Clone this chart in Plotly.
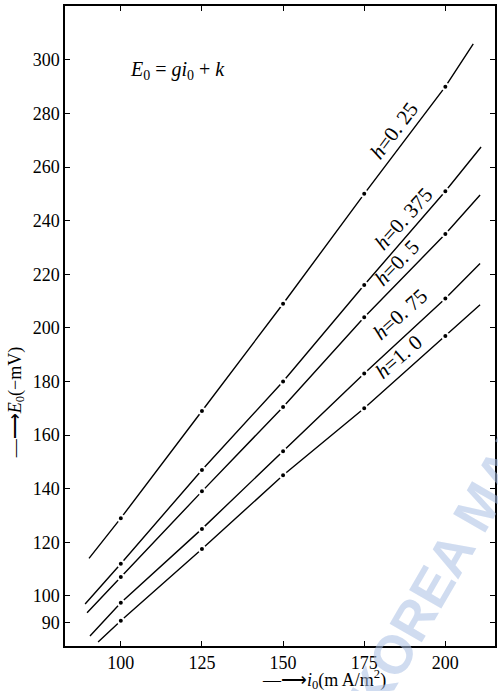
import plotly.graph_objects as go

# ---- data ----
i0 = [100, 125, 150, 175, 200]
h_labels = ["h=0. 25", "h=0. 375", "h=0. 5", "h=0. 75", "h=1. 0"]
E_h025 = [129, 169, 209, 250, 290]
E_h0375 = [112, 147, 180, 216, 251]
E_h05 = [107, 139, 170.5, 204, 235]
E_h075 = [97.4, 125, 154, 183, 211]
E_h10 = [90.7, 117.5, 145, 170, 197]
# line extents (start / end of each drawn line)
line_start_x = [90.2, 89, 89.6, 90.5, 93]
line_start_E = [114, 97, 93.7, 85, 82.8]
line_end_x = [208.6, 211, 210.7, 210.7, 210.7]
line_end_E = [306, 267.5, 249.6, 224, 208.6]
y_ticks = [90, 100, 120, 140, 160, 180, 200, 220, 240, 260, 280, 300]
x_ticks = [100, 125, 150, 175, 200]

series = [E_h025, E_h0375, E_h05, E_h075, E_h10]
label_x = [185.0, 187.9, 185.9, 187.1, 186.5]
label_E = [272.4, 239.6, 223.1, 204.0, 188.0]
label_angle = [-53, -48, -46, -42, -41]

SERIF = "Liberation Serif, Times New Roman, serif"

fig = go.Figure()
for k, E in enumerate(series):
    xs = [line_start_x[k]] + i0 + [line_end_x[k]]
    ys = [line_start_E[k]] + E + [line_end_E[k]]
    fig.add_trace(go.Scatter(x=xs, y=ys, mode="lines",
                             line=dict(color="black", width=1.4),
                             showlegend=False, hoverinfo="skip"))
    fig.add_trace(go.Scatter(x=i0, y=E, mode="markers",
                             marker=dict(color="black", size=6,
                                         line=dict(color="white", width=2)),
                             showlegend=False))

for k, lab in enumerate(h_labels):
    h, rest = lab.split("=")
    fig.add_annotation(x=label_x[k], y=label_E[k], xref="x", yref="y",
                       text="<i>" + h + "</i>=" + rest, showarrow=False,
                       textangle=label_angle[k], xanchor="center",
                       yanchor="middle", xshift=-3, yshift=3,
                       font=dict(family=SERIF, size=21, color="black"))

fig.add_annotation(x=117.5, y=295.9, xref="x", yref="y",
                   text="<i>E</i><sub>0</sub> = <i>gi</i><sub>0</sub> + <i>k</i>",
                   showarrow=False, xanchor="center", yanchor="middle",
                   font=dict(family=SERIF, size=20, color="black"))

# axis titles
fig.add_annotation(x=-0.113, y=0.38, xref="paper", yref="paper",
                   text="—⟶<i>E</i><sub>0</sub>(−mV)", showarrow=False,
                   textangle=-90, xanchor="center", yanchor="middle",
                   font=dict(family=SERIF, size=18, color="black"))
fig.add_annotation(x=0.602, y=-0.052, xref="paper", yref="paper",
                   text="—⟶<i>i</i><sub>0</sub>(m A/m<sup>2</sup>)",
                   showarrow=False, xanchor="center", yanchor="middle",
                   font=dict(family=SERIF, size=18, color="black"))

# faint watermark
fig.add_annotation(x=0.885, y=0.13, xref="paper", yref="paper",
                   text="<b>KOREA MAR</b>", showarrow=False, textangle=-60,
                   xanchor="center", yanchor="middle",
                   font=dict(family="Liberation Sans, Arial", size=54,
                             color="rgba(170,192,228,0.55)"))

axis_common = dict(showgrid=False, zeroline=False, showline=True,
                   linecolor="black", linewidth=1.5, ticks="inside",
                   ticklen=5, tickwidth=1.2, tickcolor="black",
                   mirror="ticks",
                   tickfont=dict(family=SERIF, size=18, color="black"))

fig.update_xaxes(range=[82.8, 215.3], tickvals=x_ticks, **axis_common)
fig.update_yaxes(range=[81.3, 320.1], tickvals=y_ticks, **axis_common)

fig.update_layout(width=498, height=691,
                  margin=dict(l=65, r=1, t=6, b=45),
                  plot_bgcolor="white", paper_bgcolor="white",
                  showlegend=False)

fig.write_html("out.html", config={"displayModeBar": False},
               post_script="document.body.style.margin='0px';")
